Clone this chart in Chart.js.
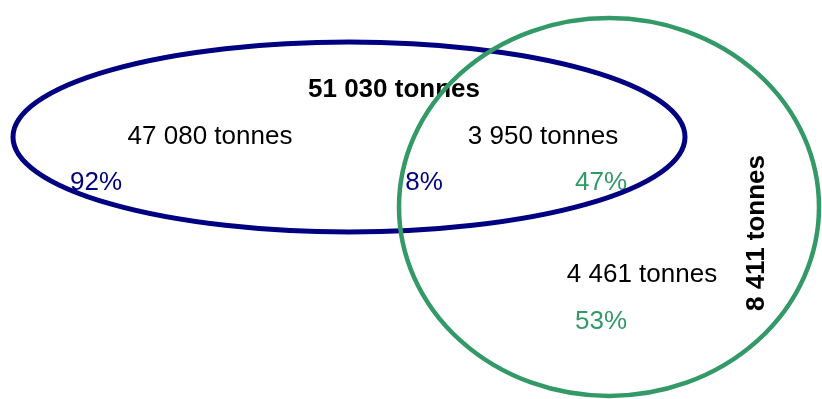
<!DOCTYPE html>
<html>
<head>
<meta charset="utf-8">
<script src="https://cdn.jsdelivr.net/npm/chart.js@4/dist/chart.umd.min.js"></script>
<style>
  html, body { margin: 0; padding: 0; background: #fff; }
  #wrap { width: 822px; height: 399px; }
</style>
</head>
<body>
<div id="wrap"><canvas id="venn"></canvas></div>
<script>
// ---- data ----
const SET_TOTALS = [51030, 8411];              // navy set, green set
const REGION_VALUES = [47080, 3950, 4461];     // navy only, overlap, green only
const SHARE_NAVY = [92, 8];                    // navy only, overlap (% of navy)
const SHARE_GREEN = [47, 53];                  // overlap, green only (% of green)
const UNIT = 'tonnes';

// ---- layout (chart units = px of the 822x399 plot) ----
const NAVY = '#000080';
const GREEN = '#339966';
const SHAPES = [
  { cx: 349, cy: 137, rx: 336, ry: 95, color: NAVY, width: 5 },
  { cx: 609, cy: 207, rx: 210, ry: 189, color: GREEN, width: 4.5 }
];
const TOTAL_POS = [
  { x: 394, y: 90, rot: 0 },
  { x: 757, y: 233, rot: -Math.PI / 2 }
];
const REGION_POS = [{ x: 210, y: 137 }, { x: 543, y: 137 }, { x: 642, y: 275 }];
const NAVY_PCT_POS = [{ x: 96, y: 183 }, { x: 424, y: 183 }];
const GREEN_PCT_POS = [{ x: 601, y: 183 }, { x: 601, y: 322 }];

const FONT = '"Liberation Sans", Arial, sans-serif';
const fmt = v => String(v).replace(/\B(?=(\d{3})+(?!\d))/g, ' ');

const vennPlugin = {
  id: 'venn',
  beforeDatasetsDraw(chart) {
    const { ctx, scales: { x, y } } = chart;
    const put = (txt, p, color, bold, rot) => {
      ctx.save();
      ctx.translate(x.getPixelForValue(p.x), y.getPixelForValue(p.y));
      if (rot) ctx.rotate(rot);
      ctx.font = (bold ? 'bold ' : '') + '26px ' + FONT;
      ctx.fillStyle = color;
      ctx.textAlign = 'center';
      ctx.textBaseline = 'middle';
      ctx.fillText(txt, 0, 0);
      ctx.restore();
    };
    SET_TOTALS.forEach((v, i) => put(fmt(v) + ' ' + UNIT, TOTAL_POS[i], '#000', true, TOTAL_POS[i].rot));
    REGION_VALUES.forEach((v, i) => put(fmt(v) + ' ' + UNIT, REGION_POS[i], '#000', false));
    SHARE_NAVY.forEach((v, i) => put(v + '%', NAVY_PCT_POS[i], NAVY, false));
    SHARE_GREEN.forEach((v, i) => put(v + '%', GREEN_PCT_POS[i], GREEN, false));
  },
  afterDatasetsDraw(chart) {
    const { ctx, scales: { x, y } } = chart;
    chart.data.datasets.forEach((ds, i) => {
      const pt = chart.getDatasetMeta(i).data[0];
      const rx = Math.abs(x.getPixelForValue(ds.rx) - x.getPixelForValue(0));
      const ry = Math.abs(y.getPixelForValue(ds.ry) - y.getPixelForValue(0));
      ctx.save();
      ctx.beginPath();
      ctx.ellipse(pt.x, pt.y, rx, ry, 0, 0, Math.PI * 2);
      ctx.lineWidth = ds.borderWidth;
      ctx.strokeStyle = ds.borderColor;
      ctx.stroke();
      ctx.restore();
    });
  }
};

new Chart(document.getElementById('venn'), {
  type: 'scatter',
  data: {
    datasets: SHAPES.map(s => ({
      data: [{ x: s.cx, y: s.cy }],
      rx: s.rx,
      ry: s.ry,
      borderColor: s.color,
      borderWidth: s.width,
      pointRadius: 0
    }))
  },
  options: {
    responsive: true,
    maintainAspectRatio: false,
    animation: false,
    layout: { padding: 0 },
    plugins: { legend: { display: false }, tooltip: { enabled: false } },
    scales: {
      x: { type: 'linear', min: 0, max: 822, display: false },
      y: { type: 'linear', min: 0, max: 399, reverse: true, display: false }
    }
  },
  plugins: [vennPlugin]
});
</script>
</body>
</html>
